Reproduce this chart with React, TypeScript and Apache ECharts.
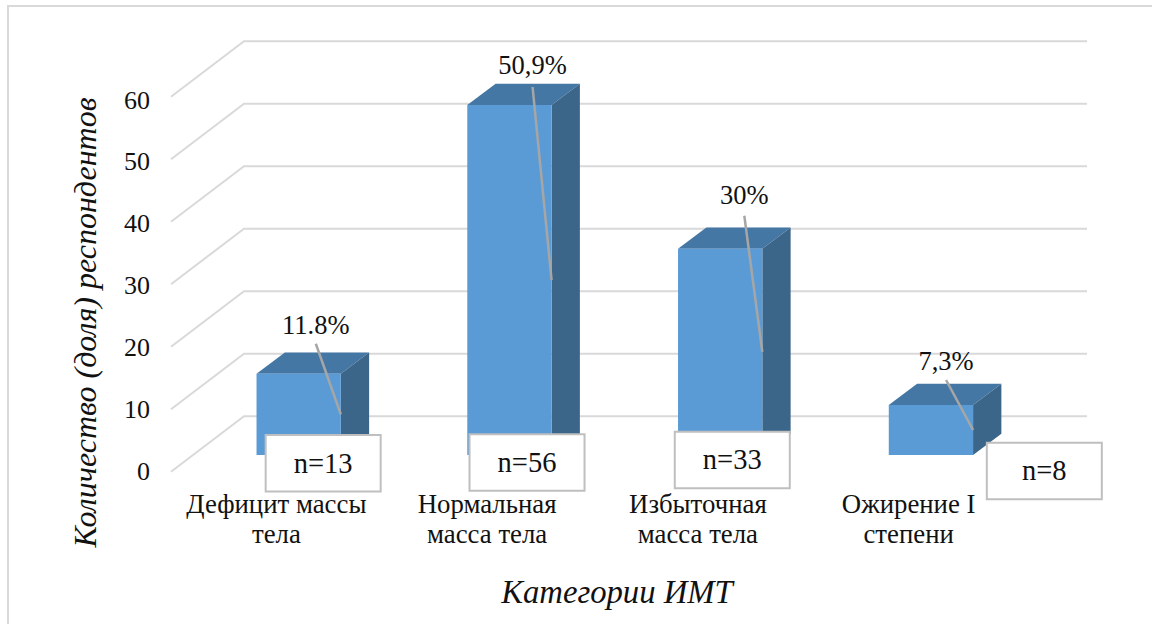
import React, { useEffect, useRef } from "react";
import * as echarts from "echarts";

const categories = ["Дефицит массы\nтела", "Нормальная\nмасса тела", "Избыточная\nмасса тела", "Ожирение I\nстепени"];
const counts = [13, 56, 33, 8];
const shares = ["11.8%", "50,9%", "30%", "7,3%"];
const ticks = [0, 10, 20, 30, 40, 50, 60];
const yTitle = "Количество (доля) респондентов";
const xTitle = "Категории ИМТ";

const FONT = '"Liberation Serif", "Times New Roman", serif';
const WALL = { dx: 73, dy: -55.5 };
const BAR = { dx: 22.3, dy: -16.7, ratio: 0.4, depthX: 28.3, depthY: -21.3 };
// label centre and leader start, relative to the bar's top-right front corner
const labelOffset = [[-25, -49], [-19, -40], [-18, -54], [-27, -44]];
const leaderOffset = [[-25, -30], [-19, -18], [-18, -33], [-27, -25]];
// n= box left/top relative to the band's base point on the front plane
const boxOffset = [[-10.7, -36.7], [-17.6, -37.4], [-23.1, -40], [78.2, -29]];
const BOX = [115, 56.5];

function barGeom(api: any, i: number, v: number) {
  const top = api.coord([i, v]);
  const base = api.coord([i, 0]);
  const w = api.size([1, 0])[0] * BAR.ratio;
  const x0 = top[0] + BAR.dx - w / 2;
  const x1 = x0 + w;
  return { x0, x1, yTop: top[1] + BAR.dy, yBase: base[1] + BAR.dy, w, baseX: base[0], baseY: base[1] };
}

export default function App() {
  const ref = useRef<HTMLDivElement>(null);
  useEffect(() => {
    const chart = echarts.init(ref.current!, null, { renderer: "svg" });
    const barData = counts.map((v, i) => [i, v]);
    const baseAxis = { type: "category", data: categories };
    chart.setOption({
      animation: false,
      backgroundColor: "#ffffff",
      grid: [
        { left: 171, top: 96.7, width: 843, height: 375 },
        { left: 171, top: 100, width: 843, height: 371 },
      ],
      xAxis: [
        {
          ...baseAxis,
          gridIndex: 0,
          axisLine: { show: false },
          axisTick: { show: false },
          splitLine: { show: false },
          axisLabel: {
            interval: 0,
            margin: 17,
            color: "#111111",
            fontFamily: FONT,
            fontSize: 26.8,
            lineHeight: 30,
            align: "center",
          },
        },
        { ...baseAxis, gridIndex: 1, show: false },
      ],
      yAxis: [
        { type: "value", gridIndex: 0, min: 0, max: 60, interval: 10, show: false },
        {
          type: "value",
          gridIndex: 1,
          min: 0,
          max: 60,
          interval: 10,
          axisLine: { show: false },
          axisTick: { show: false },
          splitLine: { show: false },
          axisLabel: { margin: 21, color: "#111111", fontFamily: FONT, fontSize: 26 },
        },
      ],
      graphic: [
        { type: "rect", z: 0, shape: { x: 7, y: 5, width: 1145, height: 2 }, style: { fill: "#d9d9d9" } },
        { type: "rect", z: 0, shape: { x: 7, y: 5, width: 2, height: 619 }, style: { fill: "#d9d9d9" } },
        {
          type: "text",
          x: 85,
          y: 322.5,
          rotation: Math.PI / 2,
          style: { text: yTitle, fill: "#111111", font: `italic 32px ${FONT}`, align: "center", verticalAlign: "middle" },
        },
        {
          type: "text",
          x: 617,
          y: 592,
          style: { text: xTitle, fill: "#111111", font: `italic 32.7px ${FONT}`, align: "center", verticalAlign: "middle" },
        },
      ],
      series: [
        {
          type: "custom",
          xAxisIndex: 0,
          yAxisIndex: 0,
          z: 1,
          silent: true,
          clip: false,
          data: ticks.map((t) => [0, t]),
          renderItem: (params: any, api: any) => {
            const p = api.coord([0, api.value(1)]);
            const cs = params.coordSys;
            return {
              type: "polyline",
              shape: {
                points: [
                  [cs.x, p[1]],
                  [cs.x + WALL.dx, p[1] + WALL.dy],
                  [cs.x + cs.width + WALL.dx, p[1] + WALL.dy],
                ],
              },
              style: { stroke: "#d9d9d9", lineWidth: 2, fill: "none" },
            };
          },
        },
        {
          type: "custom",
          xAxisIndex: 0,
          yAxisIndex: 0,
          z: 2,
          silent: true,
          clip: false,
          data: barData,
          renderItem: (_: any, api: any) => {
            const g = barGeom(api, api.value(0), api.value(1));
            const { depthX: dx, depthY: dy } = BAR;
            return {
              type: "group",
              children: [
                {
                  type: "polygon",
                  shape: { points: [[g.x0, g.yTop], [g.x0 + dx, g.yTop + dy], [g.x1 + dx, g.yTop + dy], [g.x1, g.yTop]] },
                  style: { fill: "#4577a5" },
                },
                {
                  type: "polygon",
                  shape: { points: [[g.x1, g.yTop], [g.x1 + dx, g.yTop + dy], [g.x1 + dx, g.yBase + dy], [g.x1, g.yBase]] },
                  style: { fill: "#3b6589" },
                },
                {
                  type: "rect",
                  shape: { x: g.x0, y: g.yTop, width: g.w, height: g.yBase - g.yTop },
                  style: { fill: "#5b9bd5" },
                },
              ],
            };
          },
        },
        {
          type: "custom",
          xAxisIndex: 0,
          yAxisIndex: 0,
          z: 3,
          silent: true,
          clip: false,
          data: barData,
          renderItem: (params: any, api: any) => {
            const i = params.dataIndex;
            const v = api.value(1);
            const g = barGeom(api, api.value(0), v);
            const mid = barGeom(api, api.value(0), v / 2);
            return {
              type: "group",
              children: [
                {
                  type: "line",
                  shape: {
                    x1: g.x1 + leaderOffset[i][0],
                    y1: g.yTop + leaderOffset[i][1],
                    x2: g.x1,
                    y2: mid.yTop,
                  },
                  style: { stroke: "#a6a6a6", lineWidth: 2.5 },
                },
                {
                  type: "text",
                  style: {
                    text: shares[i],
                    x: g.x1 + labelOffset[i][0],
                    y: g.yTop + labelOffset[i][1],
                    fill: "#111111",
                    font: `26.5px ${FONT}`,
                    align: "center",
                    verticalAlign: "middle",
                  },
                },
              ],
            };
          },
        },
        {
          type: "custom",
          xAxisIndex: 0,
          yAxisIndex: 0,
          z: 4,
          silent: true,
          clip: false,
          data: barData,
          renderItem: (params: any, api: any) => {
            const i = params.dataIndex;
            const g = barGeom(api, api.value(0), api.value(1));
            const x = g.baseX + boxOffset[i][0];
            const y = g.baseY + boxOffset[i][1];
            return {
              type: "group",
              children: [
                {
                  type: "rect",
                  shape: { x, y, width: BOX[0], height: BOX[1] },
                  style: { fill: "#ffffff", stroke: "#bfbfbf", lineWidth: 2 },
                },
                {
                  type: "text",
                  style: {
                    text: `n=${api.value(1)}`,
                    x: x + BOX[0] / 2,
                    y: y + BOX[1] / 2,
                    fill: "#111111",
                    font: `28.5px ${FONT}`,
                    align: "center",
                    verticalAlign: "middle",
                  },
                },
              ],
            };
          },
        },
      ],
    });
    return () => chart.dispose();
  }, []);
  return <div ref={ref} style={{ position: "absolute", left: 0, top: 0, width: 1152, height: 624 }} />;
}
